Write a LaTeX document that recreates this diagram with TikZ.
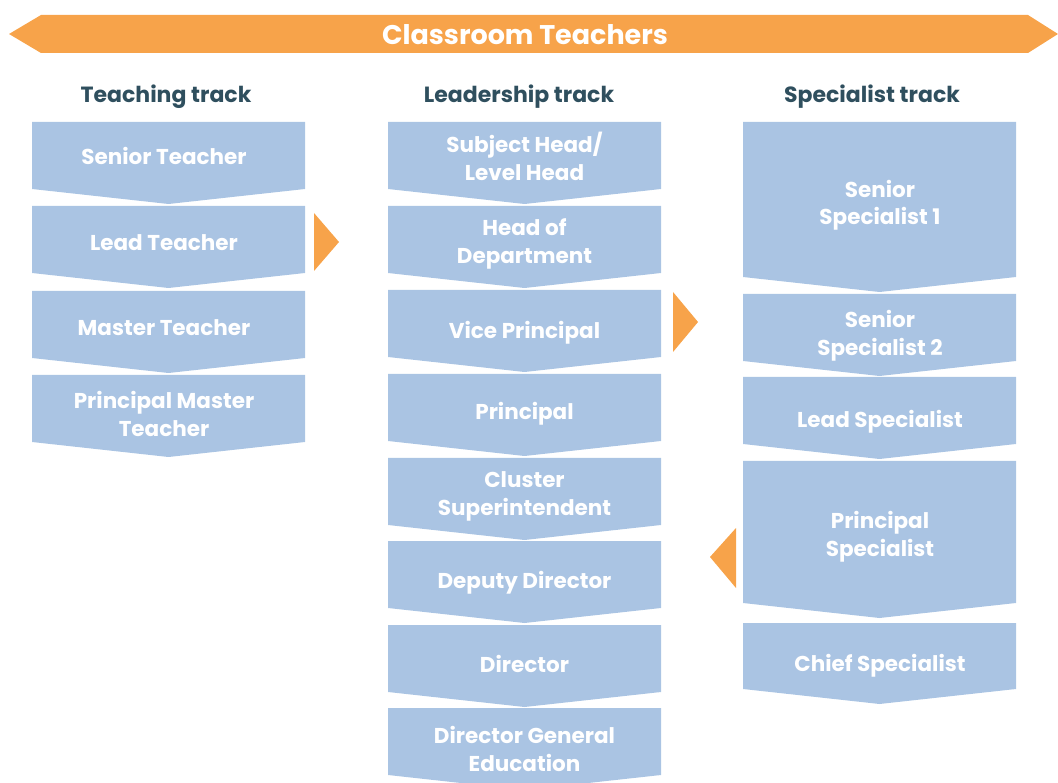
\documentclass[tikz,border=0pt]{standalone}
\usepackage{fontspec}
\setmainfont{Poppins}
\definecolor{boxblue}{HTML}{AAC4E3}
\definecolor{bannerorange}{HTML}{F7A34A}
\definecolor{trackslate}{HTML}{2F4F5E}
\tikzset{
  chevbox/.style={fill=boxblue},
  boxtext/.style={text=white,font=\bfseries\fontsize{21.5}{27.5}\selectfont,align=center,inner sep=0pt,text depth=0pt},
  tracktext/.style={text=trackslate,font=\bfseries\fontsize{22}{26}\selectfont,inner sep=0pt,text depth=0pt},
  bannertext/.style={text=white,font=\bfseries\fontsize{27}{30}\selectfont,inner sep=0pt,text depth=0pt},
  marker/.style={fill=bannerorange}
}
% chevron box: x, top, body height, label position, name, text
\def\CH#1#2#3#4#5#6{\fill[chevbox] (#1,#2) -- ++(273,0) -- ++(0,#3) -- ++(-136.5,15) -- ++(-136.5,-15) -- cycle;
  \node[boxtext] (#5) at (#4) {#6};}

\begin{document}
\begin{tikzpicture}[x=1pt,y=-1pt]
\useasboundingbox (0,0) rectangle (1058,783);
\clip (0,0) rectangle (1058,783);
% banner
\fill[bannerorange] (9,34) -- (41,15) -- (1028,15) -- (1058,34) -- (1028,53) -- (41,53) -- cycle;
\node[bannertext] (banner) at (525,35) {Classroom Teachers};
\node[tracktext] (teach) at (166,94) {Teaching track};
\node[tracktext] (lead) at (519,94) {Leadership track};
\node[tracktext] (spec) at (872,94) {Specialist track};
% teaching track
\CH{32}{122}{67}{164,156}{senteach}{Senior Teacher}
\CH{32}{206}{67}{164,243}{leadteach}{Lead Teacher}
\CH{32}{291}{67}{164,328}{mastteach}{Master Teacher}
\CH{32}{375}{67}{164,414}{princmast}{Principal Master\\Teacher}
% leadership track
\CH{388}{122}{67}{524.5,156.5}{subjhead}{Subject Head/\\Level Head}
\CH{388}{206}{67}{524.5,241}{hod}{Head of\\Department}
\CH{388}{290}{67}{524.5,330}{vp}{Vice Principal}
\CH{388}{374}{67}{524.5,411}{princ}{Principal}
\CH{388}{458}{67}{524.5,493.5}{clust}{Cluster\\Superintendent}
\CH{388}{541}{67}{524.5,580}{depdir}{Deputy Director}
\CH{388}{625}{67}{524.5,664}{dir}{Director}
\CH{388}{708}{67}{524.5,749}{dirgen}{Director General\\Education}
% specialist track
\CH{743}{122}{155}{880,202.5}{senspec1}{Senior\\Specialist 1}
\CH{743}{294}{67}{880,333}{senspec2}{Senior\\Specialist 2}
\CH{743}{377}{67}{880,419}{leadspec}{Lead Specialist}
\CH{743}{461}{142}{880,534}{princspec}{Principal\\Specialist}
\CH{743}{623}{66}{880,663}{chiefspec}{Chief Specialist}
% crossing markers
\fill[marker] (314,213) -- (339,242) -- (314,271) -- cycle;
\fill[marker] (673,292) -- (698,322) -- (673,352) -- cycle;
\fill[marker] (736,528) -- (710,557) -- (736,588) -- cycle;
\end{tikzpicture}
\end{document}
